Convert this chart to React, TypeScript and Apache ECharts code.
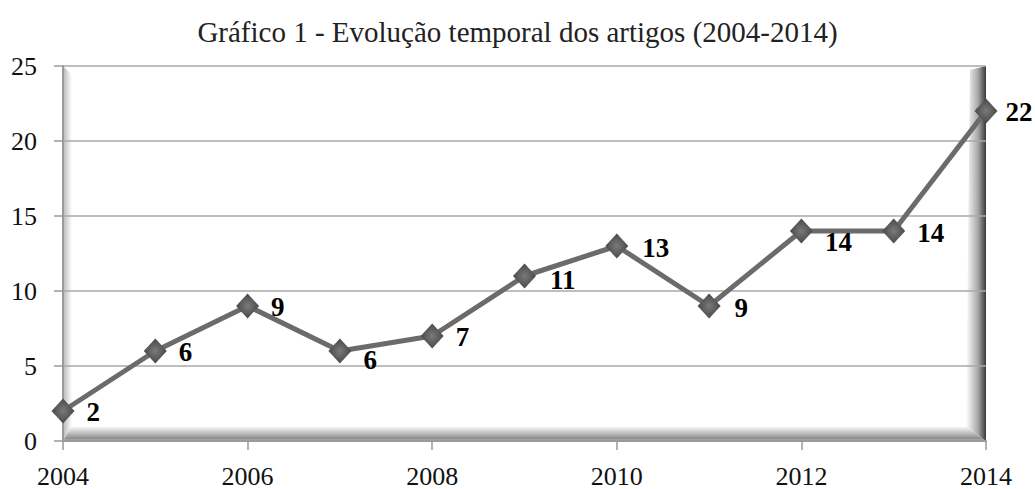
import React, { useEffect, useRef } from "react";
import * as echarts from "echarts";

const years = ["2004", "2005", "2006", "2007", "2008", "2009", "2010", "2011", "2012", "2013", "2014"];
const articles = [2, 6, 9, 6, 7, 11, 13, 9, 14, 14, 22];
const labelOffsets: number[][] = [
  [0, 1], [0, 1], [0, 1], [0, 9], [0, 1], [2, 4], [2, 2], [2, 2], [0, 11], [0, 2], [-4, 1],
];
const titleText = "Gráfico 1 - Evolução temporal dos artigos (2004-2014)";

export default function App() {
  const ref = useRef<HTMLDivElement>(null);
  useEffect(() => {
    if (!ref.current) return;
    const chart = echarts.init(ref.current, null, { renderer: "svg" });
    const serif = "Liberation Serif";
    chart.setOption({
      animation: false,
      backgroundColor: "#ffffff",
      title: {
        text: titleText,
        left: "center",
        top: 12,
        textStyle: { fontFamily: serif, fontSize: 29, fontWeight: "normal", color: "#222" },
      },
      grid: { left: 63, right: 49, top: 66, bottom: 47 },
      xAxis: {
        type: "category",
        data: years,
        boundaryGap: false,
        axisLine: { lineStyle: { color: "#9a9a9a", width: 2 } },
        axisTick: { show: true, interval: 1, length: 9, lineStyle: { color: "#9a9a9a", width: 1.5 } },
        axisLabel: { interval: 1, margin: 22, fontFamily: serif, fontSize: 26, color: "#111" },
        splitLine: { show: false },
      },
      yAxis: {
        type: "value",
        min: 0,
        max: 25,
        interval: 5,
        axisLine: { show: true, lineStyle: { color: "#9a9a9a", width: 2 } },
        axisTick: { show: true, length: 9, lineStyle: { color: "#9a9a9a", width: 1.5 } },
        axisLabel: { margin: 26, fontFamily: serif, fontSize: 26, color: "#111" },
        splitLine: { show: true, lineStyle: { color: "#a8a8a8", width: 1.5 } },
      },
      series: [
        {
          type: "line",
          data: articles.map((v, i) => ({
            value: v,
            label: { offset: labelOffsets[i] },
          })),
          z: 5,
          lineStyle: { color: "#6b6b6b", width: 5 },
          symbol: "diamond",
          symbolSize: [23, 25],
          itemStyle: {
            color: new echarts.graphic.RadialGradient(0.5, 0.5, 0.6, [
              { offset: 0, color: "#7a7a7a" },
              { offset: 1, color: "#3e3e3e" },
            ]),
            borderWidth: 0,
          },
          label: {
            show: true,
            position: "right",
            distance: 12,
            fontFamily: serif,
            fontSize: 27,
            fontWeight: "bold",
            color: "#000",
          },
        },
      ],
    });

    const tl = chart.convertToPixel({ gridIndex: 0 }, [0, 25]) as number[];
    const br = chart.convertToPixel({ gridIndex: 0 }, [years.length - 1, 0]) as number[];
    const L = tl[0], T = tl[1], R = br[0], B = br[1];
    const lw = 9, fh = 15, rw = 20;
    chart.setOption({
      graphic: [
        {
          type: "polygon",
          z: -1,
          silent: true,
          shape: { points: [[L, T], [L + lw, T + lw], [L + lw, B - fh], [L, B]] },
          style: {
            fill: new echarts.graphic.LinearGradient(0, 0, 1, 0, [
              { offset: 0, color: "#b8b8b8" },
              { offset: 1, color: "#ffffff" },
            ]),
          },
        },
        {
          type: "polygon",
          z: -1,
          silent: true,
          shape: { points: [[L, B], [L + lw, B - fh], [R - rw, B - fh], [R, B]] },
          style: {
            fill: new echarts.graphic.LinearGradient(0, 0, 0, 1, [
              { offset: 0, color: "#ffffff" },
              { offset: 0.7, color: "#a0a0a0" },
              { offset: 0.85, color: "#8c8c8c" },
              { offset: 1, color: "#d0d0d0" },
            ]),
          },
        },
        {
          type: "polygon",
          z: -1,
          silent: true,
          shape: { points: [[R, T], [R - rw + 4, T + 4], [R - rw, B - fh], [R, B]] },
          style: {
            fill: new echarts.graphic.LinearGradient(0, 0, 1, 0, [
              { offset: 0, color: "#ffffff" },
              { offset: 0.6, color: "#a8a8a8" },
              { offset: 1, color: "#3a3a3a" },
            ]),
          },
        },
      ],
    });
    return () => chart.dispose();
  }, []);
  return (
    <div
      ref={ref}
      style={{ position: "absolute", left: 0, top: 0, width: 1035, height: 489 }}
    />
  );
}
